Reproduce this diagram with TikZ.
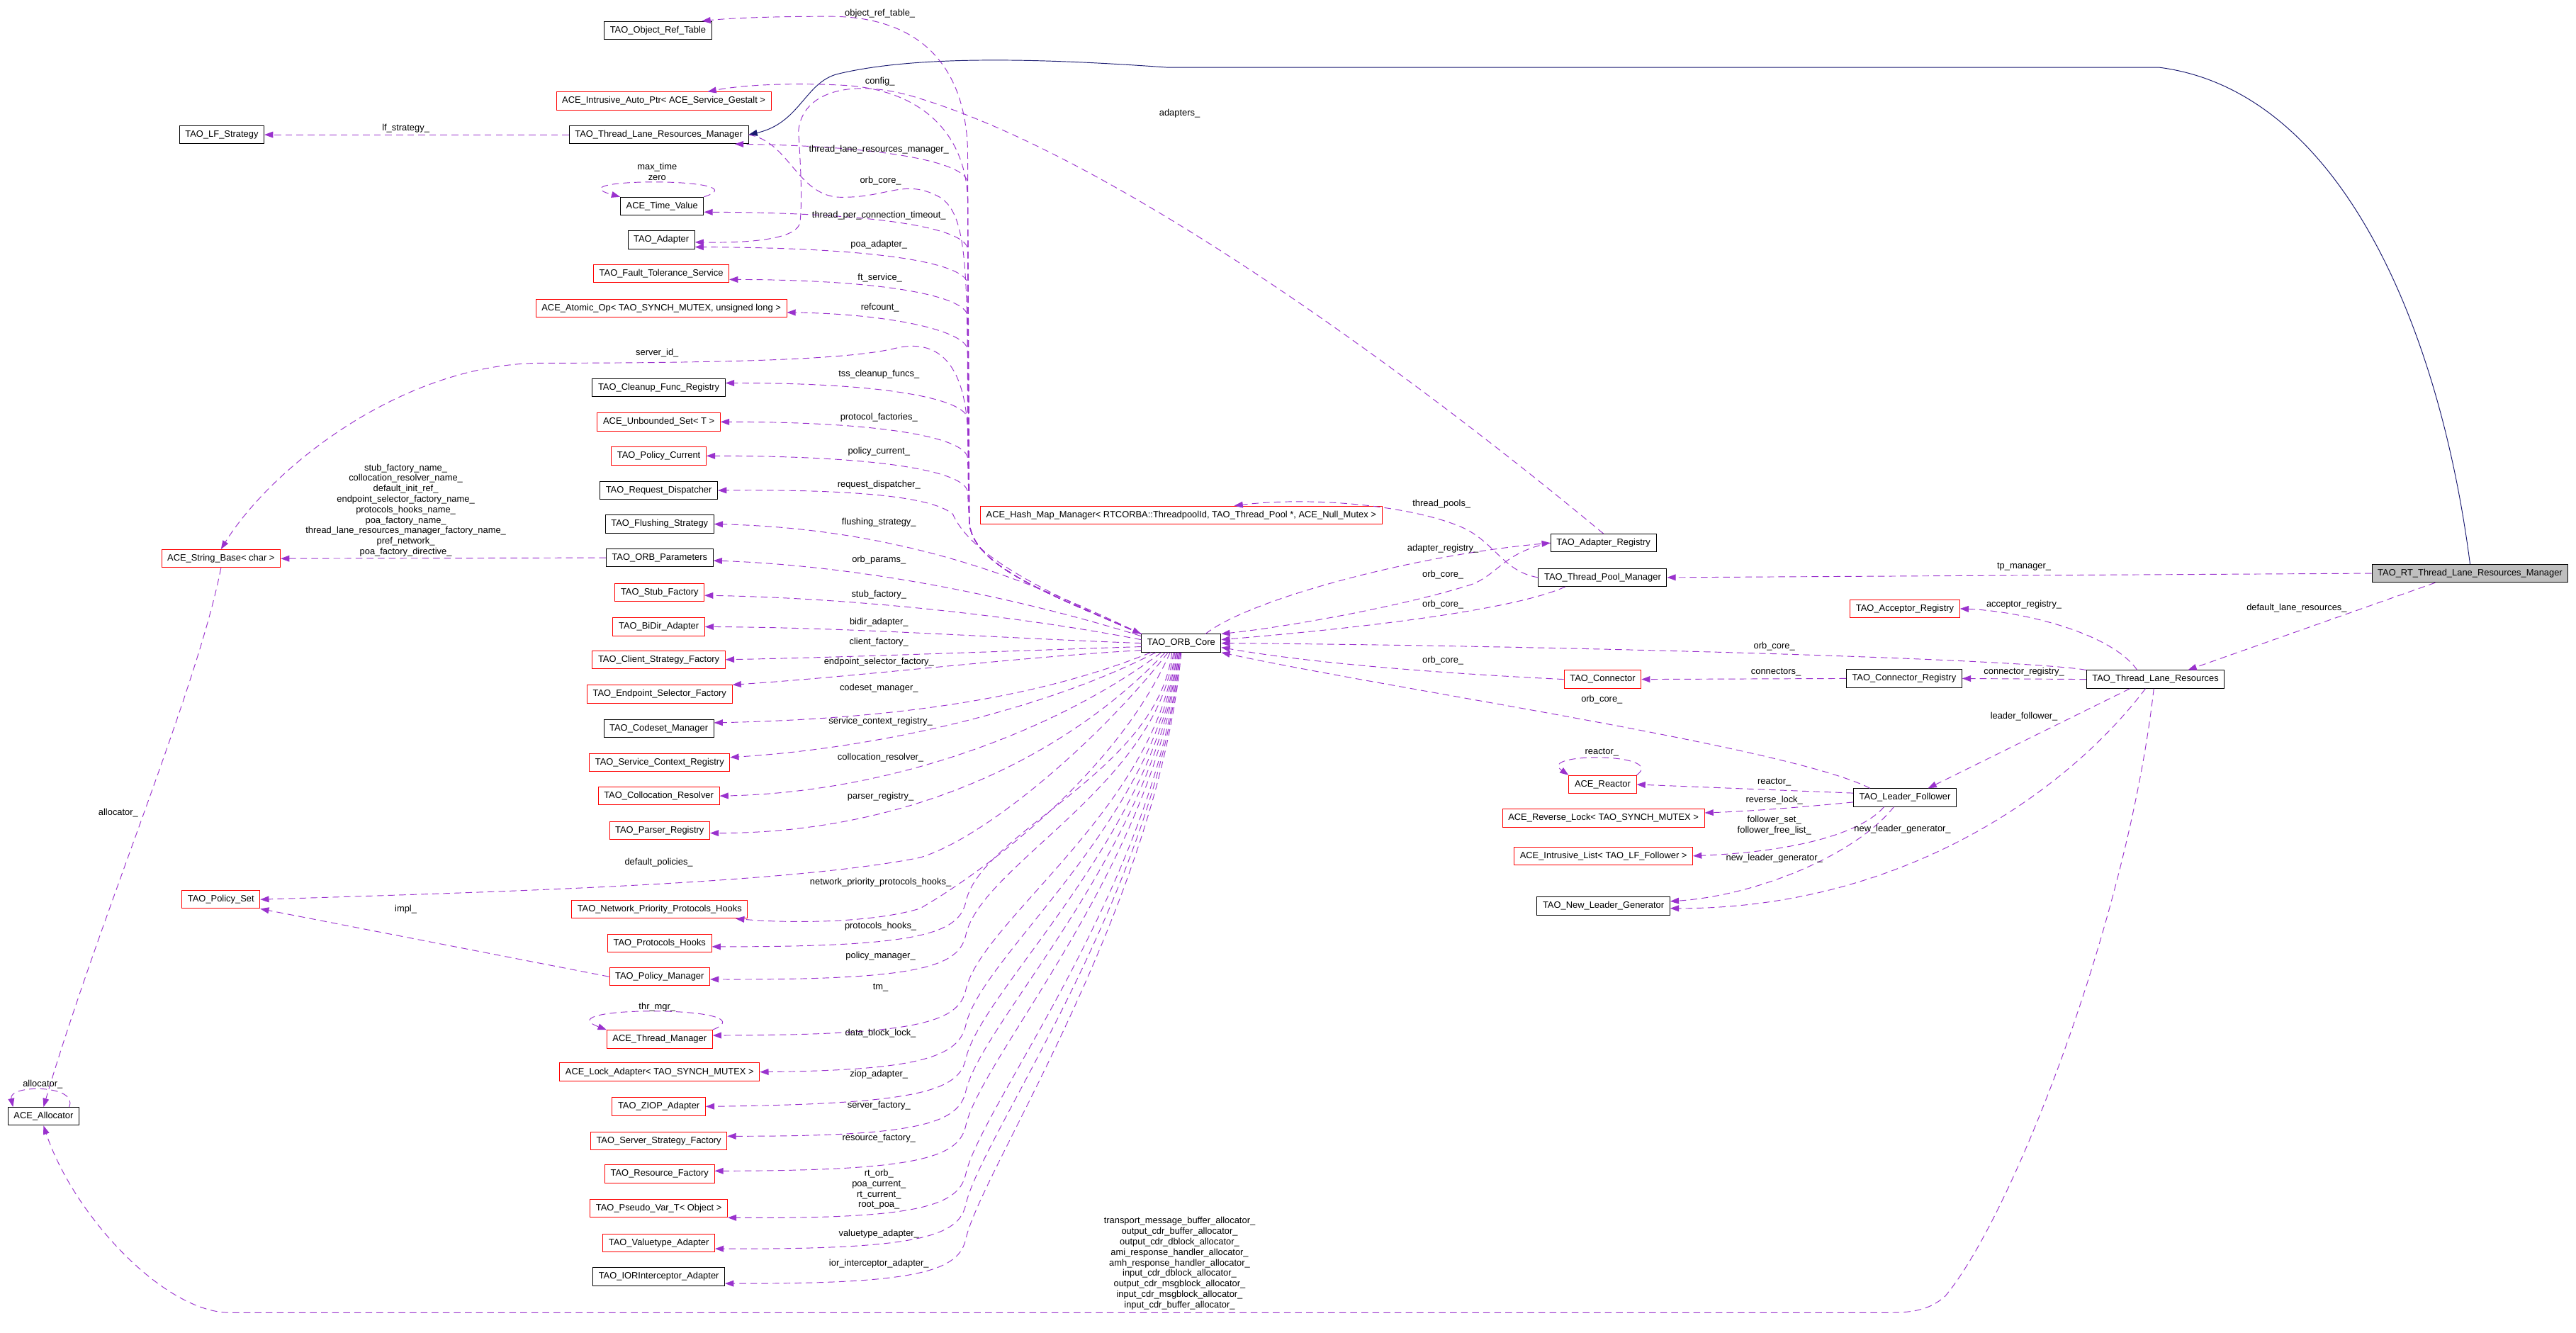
\documentclass[tikz,border=0pt]{standalone}
\usepackage{fontspec}
\setmainfont{Liberation Sans}
\usepackage{tikz}
\usetikzlibrary{arrows.meta}
\definecolor{edgepurple}{HTML}{9A32CD}
\definecolor{inhblue}{HTML}{191970}
\definecolor{curgray}{HTML}{BFBFBF}

\begin{document}
\begin{tikzpicture}[
  x=0.06cm, y=-0.06cm,
  cls/.style={draw=black, fill=white, line width=0.7pt, minimum height=18.7pt,
    inner xsep=6pt, inner ysep=0pt, font=\fontsize{9.5}{10.9}\selectfont},
  redcls/.style={cls, draw=red},
  curcls/.style={cls, fill=curgray},
  lbl/.style={font=\fontsize{9.5}{10.9}\selectfont, inner sep=0pt, align=center},
  mbr/.style={draw=edgepurple, line width=0.7pt, dash pattern=on 7pt off 4.5pt,
    -{Triangle[length=9pt, width=6.5pt]}},
  inh/.style={draw=inhblue, line width=0.7pt, -{Triangle[length=9pt, width=6.5pt]}}
]
  \useasboundingbox (0,0) rectangle (1568,811);

  % left column
  \node[cls]    (ort)     at (400.5,18.5)  {TAO\_Object\_Ref\_Table};
  \node[redcls] (iap)     at (404,61.5)    {ACE\_Intrusive\_Auto\_Ptr< ACE\_Service\_Gestalt >};
  \node[cls]    (tlrm)    at (401,82)      {TAO\_Thread\_Lane\_Resources\_Manager};
  \node[cls]    (lfs)     at (135,82)      {TAO\_LF\_Strategy};
  \node[cls]    (tv)      at (403,125.5)   {ACE\_Time\_Value};
  \node[cls]    (adapter) at (402.5,146)   {TAO\_Adapter};
  \node[redcls] (fts)     at (402.5,166.5) {TAO\_Fault\_Tolerance\_Service};
  \node[redcls] (atomic)  at (402.5,187.5) {ACE\_Atomic\_Op< TAO\_SYNCH\_MUTEX, unsigned long >};
  \node[cls]    (cleanup) at (401,236)     {TAO\_Cleanup\_Func\_Registry};
  \node[redcls] (uset)    at (401,256.8)   {ACE\_Unbounded\_Set< T >};
  \node[redcls] (pcur)    at (401,277.5)   {TAO\_Policy\_Current};
  \node[cls]    (rdisp)   at (401,298.5)   {TAO\_Request\_Dispatcher};
  \node[cls]    (flush)   at (401.5,319)   {TAO\_Flushing\_Strategy};
  \node[cls]    (orbp)    at (401.5,339.5) {TAO\_ORB\_Parameters};
  \node[redcls] (stubf)   at (401.5,360.5) {TAO\_Stub\_Factory};
  \node[redcls] (bidir)   at (401,381.5)   {TAO\_BiDir\_Adapter};
  \node[redcls] (csf)     at (401,401.5)   {TAO\_Client\_Strategy\_Factory};
  \node[redcls] (esf)     at (401.5,422.5) {TAO\_Endpoint\_Selector\_Factory};
  \node[cls]    (codeset) at (401,443.5)   {TAO\_Codeset\_Manager};
  \node[redcls] (scr)     at (401.5,464)   {TAO\_Service\_Context\_Registry};
  \node[redcls] (colres)  at (401,484.5)   {TAO\_Collocation\_Resolver};
  \node[redcls] (parser)  at (401.5,505.5) {TAO\_Parser\_Registry};
  \node[redcls] (npph)    at (401.5,553.5) {TAO\_Network\_Priority\_Protocols\_Hooks};
  \node[redcls] (phooks)  at (401.5,574)   {TAO\_Protocols\_Hooks};
  \node[redcls] (polmgr)  at (401.5,594.5) {TAO\_Policy\_Manager};
  \node[redcls] (thrmgr)  at (401.5,632.5) {ACE\_Thread\_Manager};
  \node[redcls] (lockad)  at (401.5,652.5) {ACE\_Lock\_Adapter< TAO\_SYNCH\_MUTEX >};
  \node[redcls] (ziop)    at (401,673.5)   {TAO\_ZIOP\_Adapter};
  \node[redcls] (ssf)     at (401,694.5)   {TAO\_Server\_Strategy\_Factory};
  \node[redcls] (resf)    at (401.5,714.5) {TAO\_Resource\_Factory};
  \node[redcls] (pvar)    at (401,735.5)   {TAO\_Pseudo\_Var\_T< Object >};
  \node[redcls] (vtype)   at (401,756.5)   {TAO\_Valuetype\_Adapter};
  \node[cls]    (iorint)  at (401,777)     {TAO\_IORInterceptor\_Adapter};
  \node[redcls] (sb)      at (134.5,340)   {ACE\_String\_Base< char >};
  \node[redcls] (ps)      at (134.5,547.5) {TAO\_Policy\_Set};
  \node[cls]    (alloc)   at (26.5,679.5)  {ACE\_Allocator};

  % middle and right
  \node[cls]    (orb)     at (719,391.5)   {TAO\_ORB\_Core};
  \node[redcls] (hmm)     at (719,313.5)   {ACE\_Hash\_Map\_Manager< RTCORBA::ThreadpoolId, TAO\_Thread\_Pool *, ACE\_Null\_Mutex >};
  \node[cls]    (areg)    at (976,330.5)   {TAO\_Adapter\_Registry};
  \node[cls]    (tpm)     at (975.5,351.5) {TAO\_Thread\_Pool\_Manager};
  \node[redcls] (conn)    at (975.5,413.5) {TAO\_Connector};
  \node[curcls] (rttlrm)  at (1503.5,349)  {TAO\_RT\_Thread\_Lane\_Resources\_Manager};
  \node[redcls] (accr)    at (1159.5,370.5) {TAO\_Acceptor\_Registry};
  \node[cls]    (creg)    at (1159,413)    {TAO\_Connector\_Registry};
  \node[cls]    (tlr)     at (1312,413.5)  {TAO\_Thread\_Lane\_Resources};
  \node[redcls] (reactor) at (975.5,477.5) {ACE\_Reactor};
  \node[cls]    (lf)      at (1159.5,485.5) {TAO\_Leader\_Follower};
  \node[redcls] (rlock)   at (976,498)     {ACE\_Reverse\_Lock< TAO\_SYNCH\_MUTEX >};
  \node[redcls] (ilist)   at (976,521)     {ACE\_Intrusive\_List< TAO\_LF\_Follower >};
  \node[cls]    (nlg)     at (976,551.5)   {TAO\_New\_Leader\_Generator};

  % inheritance
  \draw[inh] (rttlrm.north) .. controls (1485,200) and (1425,55) .. (1314,41) -- (710,41)
    .. controls (640,36) and (560,33) .. (510,45) .. controls (490,50) and (487,75) .. (tlrm.east);

  % ORB core, up the bundle
  \foreach \tgt/\anc/\yy in {tlrm/-7/89, tv/-8/129.6, adapter/-12/150.8, fts/-5/170.4,
      atomic/-2/191, cleanup/4/233, uset/0/256.8, pcur/0/277.5}
    \draw[mbr] (orb.north west) .. controls (640,362) and (592,345) .. (590,318) -- (589,\yy+22)
      .. controls (588,\yy+10) and (540,\yy) .. (\tgt.\anc);
  \draw[mbr] (orb.north west) .. controls (640,362) and (592,345) .. (590,318) -- (589,90)
    .. controls (587,40) and (560,10) .. (505,10) .. controls (470,10) and (445,11) .. (ort.12);
  \draw[mbr] (orb.north west) .. controls (640,362) and (592,345) .. (590,318) -- (589,120)
    .. controls (587,80) and (560,55) .. (515,52) .. controls (480,50) and (450,52) .. (iap.12);
  \draw[mbr] (orb.north west) .. controls (640,362) and (592,345) .. (590,318) -- (589,262)
    .. controls (587,220) and (570,206) .. (545,212) .. controls (520,218) and (460,221) .. (330,221)
    .. controls (245,221) and (165,285) .. (sb.north);
  \draw[mbr] (orb.north west) .. controls (640,362) and (592,340) .. (580,313)
    .. controls (565,300) and (500,298) .. (rdisp.east);
  \draw[mbr] (tlrm.east) .. controls (480,86) and (485,118) .. (510,120)
    .. controls (540,121) and (550,108) .. (572,120) .. controls (588,130) and (589,160) .. (589,250)
    -- (590,318) .. controls (592,345) and (640,362) .. (orb.north west);

  % ORB core, to the left
  \draw[mbr] (orb.north west) .. controls (640,360) and (560,322) .. (flush.east);
  \draw[mbr] (orb.170) .. controls (640,370) and (540,345) .. (orbp.-3);
  \draw[mbr] (orb.175) .. controls (620,375) and (520,364) .. (stubf.-4);
  \draw[mbr] (orb.180) .. controls (600,388) and (520,382) .. (bidir.east);
  \draw[mbr] (orb.-175) .. controls (620,396) and (520,400) .. (csf.east);
  \draw[mbr] (orb.-170) .. controls (620,400) and (520,412) .. (esf.north east);
  \draw[mbr] (orb.-163) .. controls (620,430) and (520,438) .. (codeset.6);
  \draw[mbr] (orb.-160) .. controls (640,430) and (540,455) .. (scr.4);
  \draw[mbr] (orb.-155) .. controls (650,440) and (550,482) .. (colres.east);
  \draw[mbr] (orb.-150) .. controls (655,455) and (560,507) .. (parser.-3);
  \draw[mbr] (orb.-145) .. controls (670,450) and (600,510) .. (560,522)
    .. controls (480,538) and (300,543) .. (ps.east);
  \draw[mbr] (orb.-140) .. controls (680,470) and (600,530) .. (560,553)
    .. controls (530,562) and (480,562) .. (npph.-7);

  % ORB core, down
  \foreach \tgt/\anc/\st/\yy in {phooks/-4/-135/576.4, polmgr/-3/-130/596.6, thrmgr/4/-125/630,
      lockad/0/-120/651.4, ziop/0/-115/672, ssf/4/-110/691.7, resf/3/-105/712.6,
      pvar/south east/-100/742, vtype/-6/-95/760.6, iorint/-6/-90/781.6}
    \draw[mbr] (orb.\st) .. controls (705,{397+0.4*(\yy-397)}) and (598,\yy-70) .. (588,\yy-28)
      .. controls (584,\yy-8) and (560,\yy) .. (\tgt.\anc);

  % adapters, policies, strings, allocators
  \draw[mbr] (tlrm.west) -- (lfs.east);
  \draw[mbr] (areg.north) .. controls (880,245) and (690,100) .. (560,60)
    .. controls (520,47) and (488,55) .. (486,80) .. controls (488,110) and (488,125) .. (487,135)
    .. controls (486,145) and (460,148) .. (adapter.-4);
  \draw[mbr] (tv.north east) .. controls (465,108) and (335,108) .. (tv.north west);
  \draw[mbr] (thrmgr.north east) .. controls (470,612) and (330,612) .. (thrmgr.north west);
  \draw[mbr] (polmgr.west) -- (ps.south east);
  \draw[mbr] (orbp.west) -- (sb.east);
  \draw[mbr] (sb.south) .. controls (120,420) and (60,560) .. (alloc.north);
  \draw[mbr] (alloc.20) .. controls (48,660) and (5,660) .. (alloc.163);

  % right part
  \draw[mbr] (orb.21) .. controls (760,365) and (860,338) .. (areg.west);
  \draw[mbr] (areg.west) .. controls (915,336) and (912,350) .. (895,356)
    .. controls (850,370) and (780,382) .. (orb.north east);
  \draw[mbr] (tpm.-166) .. controls (920,372) and (820,383) .. (orb.5);
  \draw[mbr] (tpm.west) .. controls (915,348) and (910,330) .. (890,321)
    .. controls (860,308) and (800,302) .. (hmm.10);
  \draw[mbr] (rttlrm.west) -- (tpm.east);
  \draw[mbr] (rttlrm.-165) -- (tlr.16);
  \draw[mbr] (tlr.153) .. controls (1285,385) and (1230,372) .. (accr.east);
  \draw[mbr] (tlr.north west) .. controls (1230,401) and (950,393) .. (orb.east);
  \draw[mbr] (tlr.west) -- (creg.east);
  \draw[mbr] (creg.west) -- (conn.east);
  \draw[mbr] (conn.west) .. controls (880,410) and (800,404) .. (orb.-6);
  \draw[mbr] (tlr.-160) -- (lf.22);
  \draw[mbr] (lf.165) .. controls (1090,455) and (850,420) .. (orb.south east);
  \draw[mbr] (reactor.north east) .. controls (1015,458) and (935,458) .. (reactor.north west);
  \draw[mbr] (lf.175) -- (reactor.east);
  \draw[mbr] (lf.-175) .. controls (1090,492) and (1060,494) .. (rlock.3);
  \draw[mbr] (lf.-156) .. controls (1135,505) and (1100,518) .. (ilist.east);
  \draw[mbr] (lf.-140) .. controls (1130,520) and (1070,545) .. (nlg.4);
  \draw[mbr] (tlr.-137) .. controls (1260,480) and (1160,553) .. (nlg.-2);
  \draw[mbr] (tlr.-100) .. controls (1295,560) and (1225,740) .. (1184,789)
    .. controls (1175,797) and (1165,799) .. (1150,799) -- (140,799)
    .. controls (100,799) and (45,740) .. (alloc.south);

  % edge labels
  \foreach \x/\y/\lab [count=\i] in {
    535.6/8.2/object\_ref\_table\_, 535.6/49.6/config\_, 718/69/adapters\_,
    247/78/lf\_strategy\_, 535/91/thread\_lane\_resources\_manager\_, 536/110/orb\_core\_,
    400/104.5/{max\_time\\zero}, 535/131/thread\_per\_connection\_timeout\_,
    535/149/poa\_adapter\_, 535.6/169/ft\_service\_, 535.6/187.2/refcount\_,
    400/215/server\_id\_, 535/228/tss\_cleanup\_funcs\_, 535/254/protocol\_factories\_,
    535/275/policy\_current\_, 535/295/request\_dispatcher\_, 535/318/flushing\_strategy\_,
    535/341/orb\_params\_, 535/362/stub\_factory\_, 535/379/bidir\_adapter\_,
    535/391/client\_factory\_, 535/403/endpoint\_selector\_factory\_,
    535/419/codeset\_manager\_, 536/439/service\_context\_registry\_,
    536/461/collocation\_resolver\_, 536/485/parser\_registry\_, 401/525/default\_policies\_,
    536/537/network\_priority\_protocols\_hooks\_, 536/564/protocols\_hooks\_,
    536/582/policy\_manager\_, 536/601/tm\_, 400/613/thr\_mgr\_, 536/629/data\_block\_lock\_,
    535/654/ziop\_adapter\_, 535/673/server\_factory\_, 535/693/resource\_factory\_,
    535/724/{rt\_orb\_\\poa\_current\_\\rt\_current\_\\root\_poa\_},
    535/751/valuetype\_adapter\_, 535/769/ior\_interceptor\_adapter\_,
    247/310.6/{stub\_factory\_name\_\\collocation\_resolver\_name\_\\default\_init\_ref\_\\endpoint\_selector\_factory\_name\_\\protocols\_hooks\_name\_\\poa\_factory\_name\_\\thread\_lane\_resources\_manager\_factory\_name\_\\pref\_network\_\\poa\_factory\_directive\_},
    247/553.3/impl\_, 72/495/allocator\_, 26/660/allocator\_,
    718/769/{transport\_message\_buffer\_allocator\_\\output\_cdr\_buffer\_allocator\_\\output\_cdr\_dblock\_allocator\_\\ami\_response\_handler\_allocator\_\\amh\_response\_handler\_allocator\_\\input\_cdr\_dblock\_allocator\_\\output\_cdr\_msgblock\_allocator\_\\input\_cdr\_msgblock\_allocator\_\\input\_cdr\_buffer\_allocator\_},
    877.5/306.6/thread\_pools\_, 878.3/334/adapter\_registry\_, 878.3/349.7/orb\_core\_,
    878.3/368/orb\_core\_, 878.3/402/orb\_core\_, 975/426/orb\_core\_,
    1232/345/tp\_manager\_, 1398/370/default\_lane\_resources\_, 1232/368/acceptor\_registry\_,
    1080/393.5/orb\_core\_, 1081/409/connectors\_, 1232/409/connector\_registry\_,
    1232/436/leader\_follower\_, 975/458/reactor\_, 1080/476/reactor\_, 1080/487/reverse\_lock\_,
    1080/502.2/{follower\_set\_\\follower\_free\_list\_}, 1158/504.6/new\_leader\_generator\_,
    1080/522.5/new\_leader\_generator\_}
    \node[lbl] (lab\i) at (\x,\y) {\lab};
\end{tikzpicture}
\end{document}
